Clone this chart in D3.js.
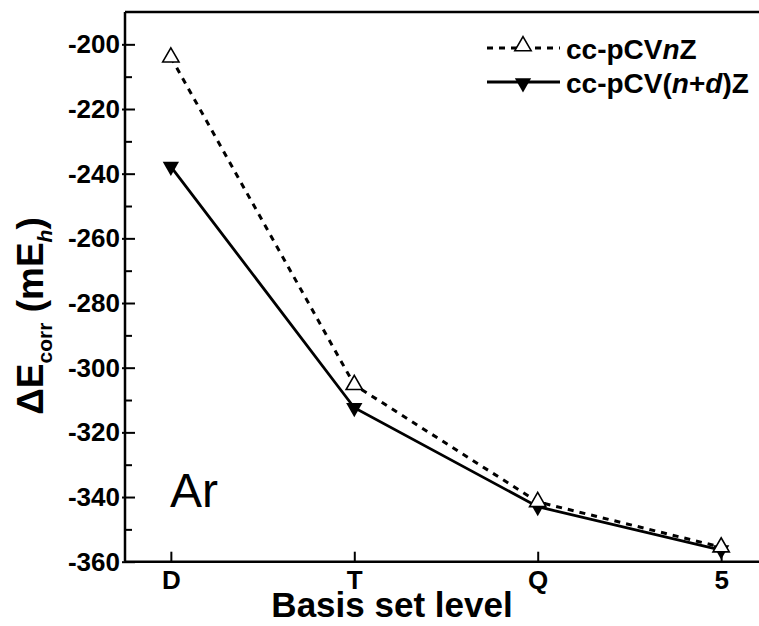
<!DOCTYPE html>
<html>
<head>
<meta charset="utf-8">
<script src="https://cdn.jsdelivr.net/npm/d3@7"></script>
<style>
  body { margin: 0; background: #fff; }
  text { font-family: "Liberation Sans", Arial, sans-serif; }
</style>
</head>
<body>
<div class="content"></div>
<script>
// basis set levels and correlation energies (mEh)
var levels = ["D", "T", "Q", "5"];
var pCVnZ = [-204, -305.3, -341.5, -355.5];
var pCVndZ = [-237.8, -312.4, -343, -356.4];
var yMajor = [-200, -220, -240, -260, -280, -300, -320, -340, -360];
var yMinor = [-210, -230, -250, -270, -290, -310, -330, -350];
var seriesNames = ["cc-pCVnZ", "cc-pCV(n+d)Z"];

var chart = {
    width: 759,
    height: 626,
    left: 125,
    top: 12,
    bottom: 561.7,
    right: 767
};

var svg = d3.select('.content').append('svg')
    .attr('width', chart.width)
    .attr('height', chart.height);

var x = d3.scalePoint().domain(levels).range([chart.left, chart.right]).padding(0.25);
var y = d3.scaleLinear().domain([-190, -360]).range([chart.top, chart.bottom]);

// frame: top line
svg.append('line')
    .attr('x1', chart.left).attr('x2', chart.right)
    .attr('y1', chart.top).attr('y2', chart.top)
    .style('stroke', '#000').style('stroke-width', 2.5);

// y axis
var yAxis = svg.append('g')
    .attr('transform', 'translate(' + chart.left + ',0)')
    .call(d3.axisLeft(y).tickValues(yMajor).tickSize(3).tickPadding(5)
        .tickFormat(function(d) { return String(d); }));
yAxis.select('.domain').remove();
yAxis.selectAll('.tick line').attr('x1', -3).attr('x2', 10)
    .style('stroke-width', 2);
yAxis.selectAll('.tick text')
    .style('font-size', '26px').style('font-weight', 'bold')
    .attr('x', -5);
svg.append('g')
    .attr('transform', 'translate(' + chart.left + ',0)')
    .call(d3.axisLeft(y).tickValues(yMinor).tickSize(-7).tickFormat(''))
    .call(function(g) { g.select('.domain').remove(); })
    .selectAll('.tick line').style('stroke-width', 2);
svg.append('line')
    .attr('x1', chart.left).attr('x2', chart.left)
    .attr('y1', chart.top).attr('y2', chart.bottom)
    .style('stroke', '#000').style('stroke-width', 2.5);

// x axis
var xAxis = svg.append('g')
    .attr('transform', 'translate(0,' + chart.bottom + ')')
    .call(d3.axisBottom(x).tickSize(-10).tickPadding(12));
xAxis.select('.domain').remove();
xAxis.selectAll('.tick line').style('stroke-width', 2);
xAxis.selectAll('.tick text')
    .style('font-size', '26px').style('font-weight', 'bold')
    .attr('y', 27).attr('dy', 0);
svg.append('line')
    .attr('x1', chart.left).attr('x2', chart.right)
    .attr('y1', chart.bottom).attr('y2', chart.bottom)
    .style('stroke', '#000').style('stroke-width', 2.5);

// axis titles
svg.append('text')
    .attr('x', 392).attr('y', 617)
    .attr('text-anchor', 'middle')
    .style('font-size', '35px').style('font-weight', 'bold')
    .text('Basis set level');

var ylab = svg.append('text')
    .attr('transform', 'translate(43,316) rotate(-90)')
    .attr('text-anchor', 'middle')
    .style('font-size', '37px').style('font-weight', 'bold');
ylab.append('tspan').text('\u0394E');
ylab.append('tspan').attr('dy', 9).style('font-size', '21px').text('corr');
ylab.append('tspan').attr('dy', -9).text(' (mE');
ylab.append('tspan').attr('dy', 9).style('font-size', '21px').style('font-style', 'italic').text('h');
ylab.append('tspan').attr('dy', -9).text(')');

svg.append('text')
    .attr('x', 170).attr('y', 507)
    .style('font-size', '48px')
    .text('Ar');

// series
var line = d3.line()
    .x(function(d, i) { return x(levels[i]); })
    .y(function(d) { return y(d); });

svg.append('path')
    .attr('d', line(pCVndZ))
    .style('fill', 'none').style('stroke', '#000').style('stroke-width', 2.8);
svg.append('path')
    .attr('d', line(pCVnZ))
    .style('fill', 'none').style('stroke', '#000').style('stroke-width', 3)
    .style('stroke-dasharray', '6,6');

var tri = d3.symbol(d3.symbolTriangle, 115);

svg.selectAll('.down').data(pCVndZ).enter().append('path')
    .attr('class', 'down')
    .attr('d', tri)
    .attr('transform', function(d, i) { return 'translate(' + x(levels[i]) + ',' + y(d) + ') rotate(180)'; })
    .style('fill', '#000');
svg.selectAll('.up').data(pCVnZ).enter().append('path')
    .attr('class', 'up')
    .attr('d', tri)
    .attr('transform', function(d, i) { return 'translate(' + x(levels[i]) + ',' + y(d) + ')'; })
    .style('fill', '#fff').style('stroke', '#000').style('stroke-width', 1.6);

// legend
var legend = svg.append('g');
var rows = [
    { y: 48, dash: '6,6', down: false },
    { y: 82, dash: null, down: true }
];
rows.forEach(function(r, i) {
    legend.append('line')
        .attr('x1', 487).attr('x2', 560)
        .attr('y1', r.y).attr('y2', r.y)
        .style('stroke', '#000').style('stroke-width', 3)
        .style('stroke-dasharray', r.dash);
    legend.append('path')
        .attr('d', tri)
        .attr('transform', 'translate(523,' + (r.y + (r.down ? 1 : -2)) + ')' + (r.down ? ' rotate(180)' : ''))
        .style('fill', r.down ? '#000' : '#fff')
        .style('stroke', r.down ? 'none' : '#000').style('stroke-width', 1.6);
    var t = legend.append('text')
        .attr('x', 566).attr('y', r.y + 11)
        .style('font-size', '28px').style('font-weight', 'bold');
    if (i === 0) {
        t.append('tspan').text('cc-pCV');
        t.append('tspan').style('font-style', 'italic').text('n');
        t.append('tspan').text('Z');
    } else {
        t.append('tspan').text('cc-pCV(');
        t.append('tspan').style('font-style', 'italic').text('n');
        t.append('tspan').text('+');
        t.append('tspan').style('font-style', 'italic').text('d');
        t.append('tspan').text(')Z');
    }
});
</script>
</body>
</html>
